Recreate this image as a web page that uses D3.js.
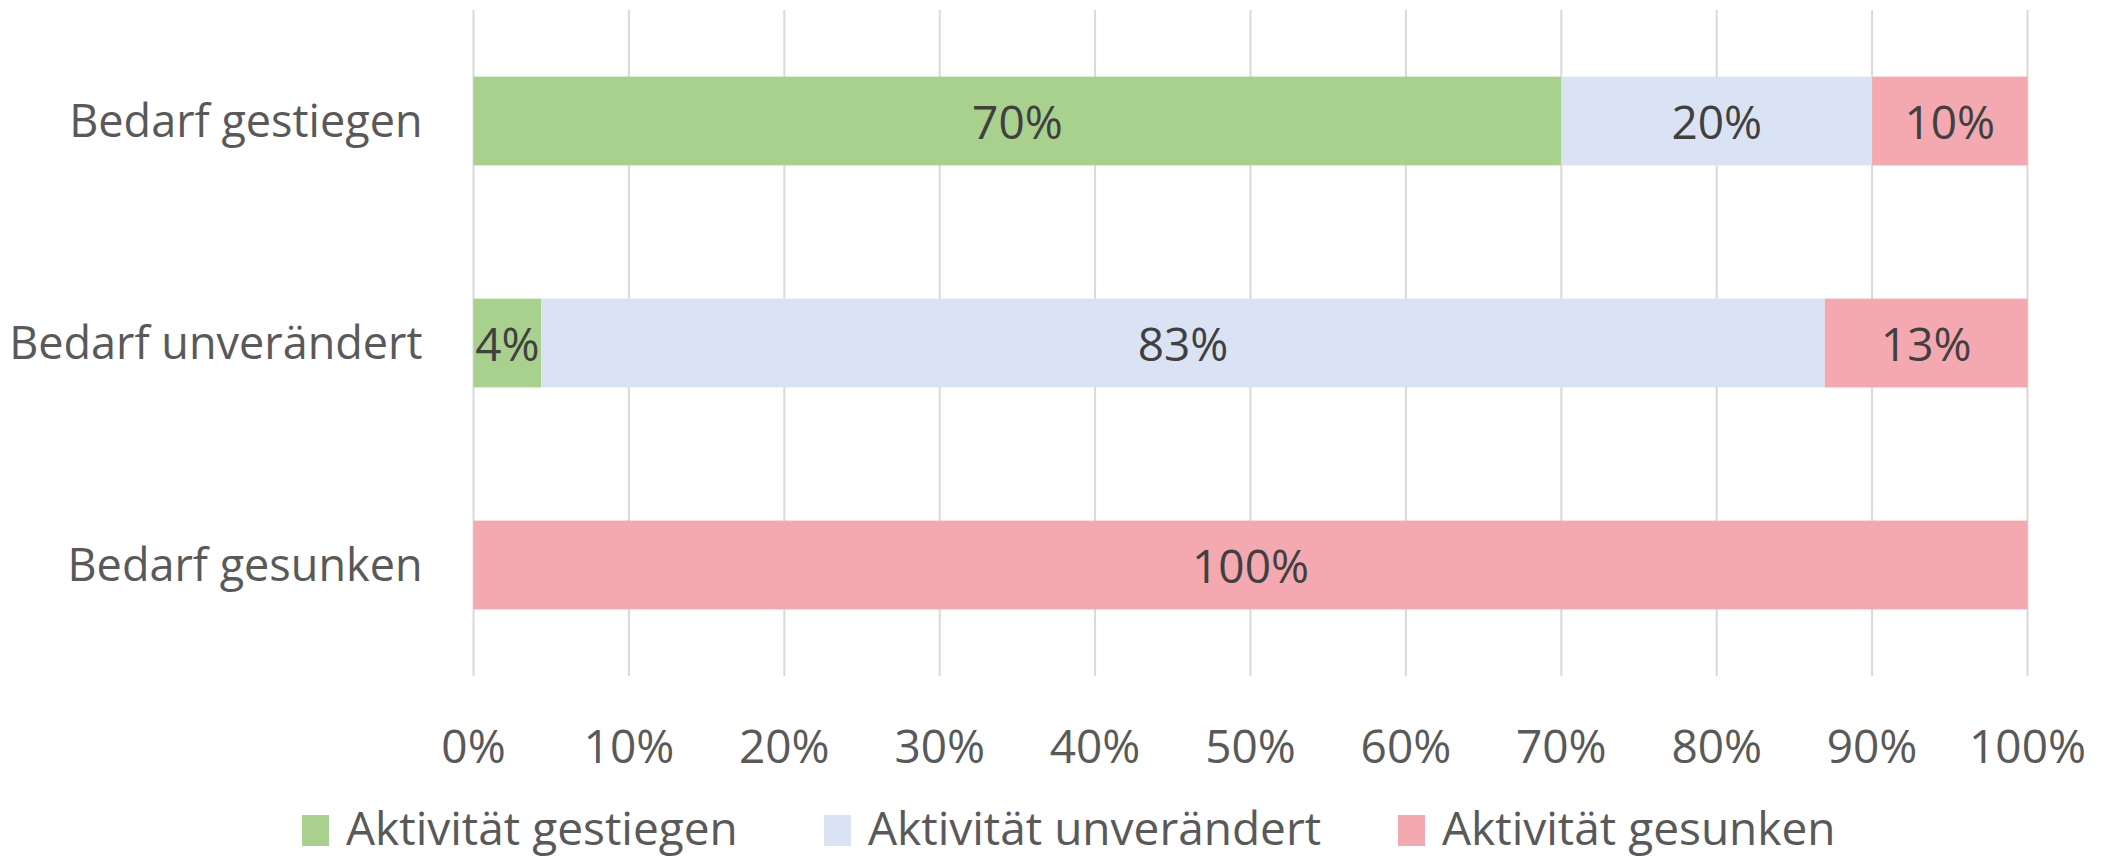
<!DOCTYPE html>
<html>
<head>
<meta charset="utf-8">
<script src="https://cdn.jsdelivr.net/npm/d3@7"></script>
<style>
  body { margin: 0; background: #fff; }
  svg text { font-family: "Open Sans", "Noto Sans", sans-serif; }
</style>
</head>
<body>
<svg id="chart" width="2103" height="858"></svg>
<script>
// categories (top to bottom) and series shares
var categories = ["Bedarf gestiegen", "Bedarf unverändert", "Bedarf gesunken"];
var seriesNames = ["Aktivität gestiegen", "Aktivität unverändert", "Aktivität gesunken"];
var gestiegen = [0.70, 0.0435, 0];
var unveraendert = [0.20, 0.8261, 0];
var gesunken = [0.10, 0.1304, 1.00];
var labels = [["70%", "20%", "10%"], ["4%", "83%", "13%"], ["", "", "100%"]];
var tickValues = [0, 0.1, 0.2, 0.3, 0.4, 0.5, 0.6, 0.7, 0.8, 0.9, 1.0];
var colors = ["#A9D18E", "#DAE3F3", "#F4A9B0"];

var svg = d3.select("#chart");

var x = d3.scaleLinear().domain([0, 1]).range([473.5, 2027.5]);
var y = d3.scaleBand().domain(categories).range([10, 676])
    .paddingInner(0.6).paddingOuter(0.3);

// build rows for the stack
var rows = categories.map(function(c, i) {
    var r = { cat: c, idx: i };
    r[seriesNames[0]] = gestiegen[i];
    r[seriesNames[1]] = unveraendert[i];
    r[seriesNames[2]] = gesunken[i];
    return r;
});
var stacked = d3.stack().keys(seriesNames)(rows);

// gridlines
svg.append("g")
    .selectAll("line")
    .data(tickValues)
    .enter().append("line")
    .attr("x1", function(d) { return x(d); })
    .attr("x2", function(d) { return x(d); })
    .attr("y1", 10)
    .attr("y2", 676)
    .attr("stroke", "#D9D9D9")
    .attr("stroke-width", 2);

// bars
var layer = svg.append("g")
    .selectAll("g")
    .data(stacked)
    .enter().append("g")
    .attr("fill", function(d, i) { return colors[i]; });

layer.selectAll("rect")
    .data(function(d) { return d; })
    .enter().append("rect")
    .filter(function(d) { return d[1] - d[0] > 0; })
    .attr("x", function(d) { return x(d[0]); })
    .attr("y", function(d) { return y(d.data.cat); })
    .attr("width", function(d) { return x(d[1]) - x(d[0]); })
    .attr("height", y.bandwidth());

// data labels
stacked.forEach(function(s, si) {
    svg.append("g")
        .selectAll("text")
        .data(s.filter(function(d) { return d[1] - d[0] > 0; }))
        .enter().append("text")
        .attr("x", function(d) { return x((d[0] + d[1]) / 2); })
        .attr("y", function(d) { return y(d.data.cat) + y.bandwidth() / 2 + 18; })
        .attr("text-anchor", "middle")
        .attr("font-size", 46)
        .attr("fill", "#404040")
        .text(function(d) { return labels[d.data.idx][si]; });
});

// category labels
svg.append("g")
    .selectAll("text")
    .data(categories)
    .enter().append("text")
    .attr("x", x(0) - 51)
    .attr("y", function(d) { return y(d) + y.bandwidth() / 2 + 16; })
    .attr("text-anchor", "end")
    .attr("font-size", 45)
    .attr("fill", "#595959")
    .text(function(d) { return d; });

// x tick labels
svg.append("g")
    .selectAll("text")
    .data(tickValues)
    .enter().append("text")
    .attr("x", function(d) { return x(d); })
    .attr("y", 763)
    .attr("text-anchor", "middle")
    .attr("font-size", 46)
    .attr("fill", "#595959")
    .text(function(d) { return Math.round(d * 100) + "%"; });

// legend
var legendX = [302, 824, 1398];
var legend = svg.append("g")
    .selectAll("g")
    .data(seriesNames)
    .enter().append("g")
    .attr("transform", function(d, i) { return "translate(" + legendX[i] + ",0)"; });

legend.append("rect")
    .attr("x", 0)
    .attr("y", 815)
    .attr("width", 27)
    .attr("height", 31)
    .attr("fill", function(d, i) { return colors[i]; });

legend.append("text")
    .attr("x", 44)
    .attr("y", 845)
    .attr("font-size", 46)
    .attr("fill", "#595959")
    .text(function(d) { return d; });
</script>
</body>
</html>
